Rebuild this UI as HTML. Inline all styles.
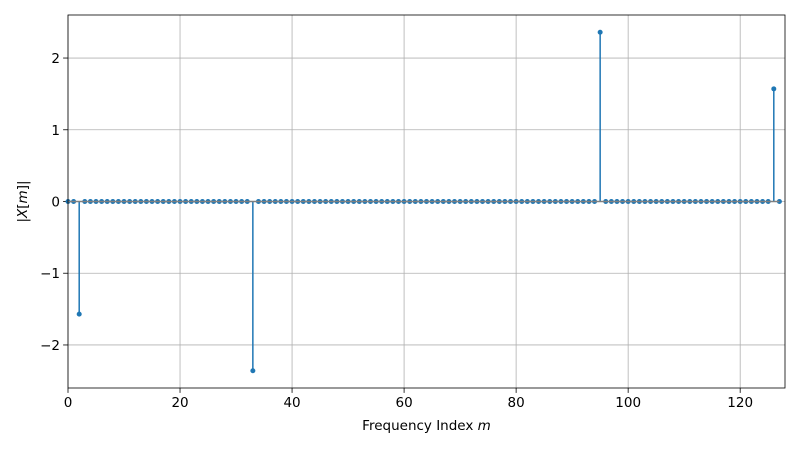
<!DOCTYPE html>
<html><head><meta charset="utf-8"><style>
body{margin:0;background:#fff;}
svg{display:block;font-family:"DejaVu Sans","Liberation Sans",sans-serif;}
</style></head><body>
<svg id="chart" width="800" height="450"></svg>
<script>
const indices = Array.from({length:128},(_, i)=>i);
const spikeIdx = [2, 33, 95, 126];
const spikeVals = [-1.57, -2.36, 2.36, 1.57];
const xTicks = [0,20,40,60,80,100,120];
const yTicks = [-2,-1,0,1,2];
const values = indices.map(i=>{const k=spikeIdx.indexOf(i);return k>=0?spikeVals[k]:0;});

const L=68,R=785,T=15,B=388, xmin=0,xmax=128,ymin=-2.6,ymax=2.6;
const sx=v=>L+(v-xmin)/(xmax-xmin)*(R-L);
const sy=v=>B-(v-ymin)/(ymax-ymin)*(B-T);
const svg=document.getElementById('chart');
const NS='http://www.w3.org/2000/svg';
function mk(tag,attrs,parent){const e=document.createElementNS(NS,tag);for(const k in attrs)e.setAttribute(k,attrs[k]);(parent||svg).appendChild(e);return e;}

let e;
e=mk('rect',{x:L,y:T,width:R-L,height:B-T,fill:'#fff'});


xTicks.forEach(t=>{
  e=mk('line',{x1:sx(t),x2:sx(t),y1:T,y2:B,stroke:'#b0b0b0','stroke-width':0.8});
  
  
  e=mk('line',{x1:sx(t),x2:sx(t),y1:B,y2:B+4.9,stroke:'#000','stroke-width':0.8});
  
  
  e=mk('text',{x:sx(t),y:B+19,'text-anchor':'middle','font-size':13.5,fill:'#000'});
  e.textContent=t;
  
  
});
yTicks.forEach(t=>{
  e=mk('line',{x1:L,x2:R,y1:sy(t),y2:sy(t),stroke:'#b0b0b0','stroke-width':0.8});
  
  
  e=mk('line',{x1:L-4.9,x2:L,y1:sy(t),y2:sy(t),stroke:'#000','stroke-width':0.8});
  
  
  e=mk('text',{x:L-8,y:sy(t)+5,'text-anchor':'end','font-size':13.5,fill:'#000'});
  e.textContent=(t<0?'\u2212'+(-t):t);
  
  
});
indices.forEach((i,k)=>{
  const v=values[k];
  if(v!==0){
    e=mk('line',{x1:sx(i),x2:sx(i),y1:sy(0),y2:sy(v),stroke:'#1f77b4','stroke-width':1.5});
    
    
  }
  e=mk('circle',{cx:sx(i),cy:sy(v),r:2.5,fill:'#1f77b4'});
  
  
});
e=mk('line',{x1:sx(indices[0]),x2:sx(indices[indices.length-1]),y1:sy(0),y2:sy(0),stroke:'#808080','stroke-width':1.5});


e=mk('rect',{x:L,y:T,width:R-L,height:B-T,fill:'none',stroke:'#000','stroke-width':0.8});


e=mk('text',{x:(L+R)/2,y:430,'text-anchor':'middle','font-size':13.5,fill:'#000'});
e.innerHTML='Frequency Index <tspan font-style="italic">m</tspan>';


e=mk('text',{x:0,y:0,'text-anchor':'middle','font-size':13.5,fill:'#000',transform:`translate(27,${(T+B)/2}) rotate(-90)`});
e.innerHTML='|<tspan font-style="italic">X</tspan>[<tspan font-style="italic">m</tspan>]|';


</script>
</body></html>
